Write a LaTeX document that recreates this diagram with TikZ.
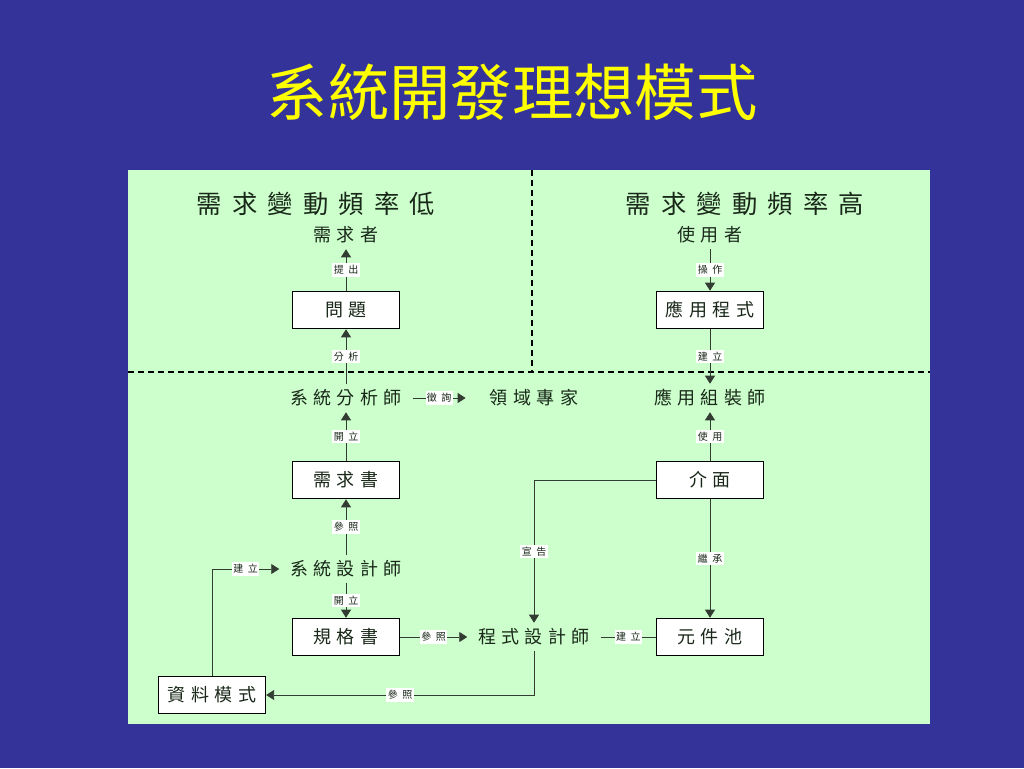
\documentclass[tikz,border=0pt]{standalone}
\usepackage{fontspec}
\usetikzlibrary{arrows.meta}
\newfontfamily\cjk{Noto Sans CJK TC}
\newfontfamily\cjkA[LetterSpace=30]{Noto Sans CJK TC}
\newfontfamily\cjkB[LetterSpace=45]{Noto Sans CJK TC}
\newfontfamily\cjkH[LetterSpace=40]{Noto Sans CJK TC}
\definecolor{bgblue}{RGB}{51,51,153}
\definecolor{panelgreen}{RGB}{204,255,204}
\definecolor{ink}{RGB}{25,40,25}
\definecolor{wire}{RGB}{50,60,50}
\definecolor{titleyellow}{RGB}{255,255,0}
\tikzset{
  titletext/.style={font=\cjk\fontsize{46}{50}\selectfont, text=titleyellow, inner sep=0},
  headtext/.style={font=\cjkH\fontsize{19}{22}\selectfont, text=ink, inner sep=0},
  plaintext/.style={font=\cjkA\fontsize{13.5}{15}\selectfont, text=ink, inner ysep=0, inner xsep=8pt, minimum height=21pt},
  boxnode/.style={draw=black, line width=1.2pt, fill=white, font=\cjkA\fontsize{13.5}{15}\selectfont, text=ink, minimum width=80pt, minimum height=27.75pt, inner sep=0},
  lbl/.style={fill=white, font=\cjkB\fontsize{7.5}{9}\selectfont, text=ink, inner xsep=1pt, inner ysep=1.5pt},
  wireline/.style={draw=wire, line width=0.6pt},
  arr/.style={wireline, -{Triangle[length=6pt,width=7.5pt]}},
  dashline/.style={draw=black, line width=0.8pt, dash pattern=on 4.5pt off 3pt}
}
\begin{document}
\begin{tikzpicture}[x=0.75pt,y=-0.75pt]
\useasboundingbox (0,0) rectangle (1024,768);
\fill[bgblue] (0,0) rectangle (1024,768);
\fill[panelgreen] (128,170) rectangle (930,724);
\draw[dashline] (532,170) -- (532,372);
\draw[dashline] (128,372) -- (930,372);

\node[titletext] (title) at (512,92) {系統開發理想模式};
\node[headtext] (hlow) at (316,204) {需求變動頻率低};
\node[headtext] (hhigh) at (745,204) {需求變動頻率高};

\node[plaintext] (xqz) at (346,235) {需求者};
\node[plaintext] (syz) at (710,235) {使用者};
\node[boxnode] (wt) at (346,310) {問題};
\node[boxnode] (yycs) at (710,310) {應用程式};
\node[plaintext] (xtfxs) at (346,398) {系統分析師};
\node[plaintext, inner xsep=18pt] (lyzj) at (534,398) {領域專家};
\node[plaintext] (yyzzs) at (710,398) {應用組裝師};
\node[boxnode] (xqs) at (346,480) {需求書};
\node[boxnode] (jm) at (710,480) {介面};
\node[plaintext] (xtsjs) at (346,569) {系統設計師};
\node[boxnode] (ggs) at (346,637) {規格書};
\node[plaintext] (cssjs) at (534,637) {程式設計師};
\node[boxnode] (yjc) at (710,637) {元件池};
\node[boxnode] (zlms) at (212,695) {資料模式};

\draw[arr] (wt) -- node[lbl]{提出} (xqz);
\draw[arr] (xtfxs) -- node[lbl]{分析} (wt);
\draw[arr] (syz) -- node[lbl]{操作} (yycs);
\draw[arr] (yycs) -- node[lbl]{建立} (yyzzs);
\draw[arr] (xtfxs) -- node[lbl]{徵詢} (lyzj);
\draw[arr] (xqs) -- node[lbl]{開立} (xtfxs);
\draw[arr] (jm) -- node[lbl]{使用} (yyzzs);
\draw[arr] (xtsjs) -- node[lbl]{參照} (xqs);
\draw[arr] (xtsjs) -- node[lbl]{開立} (ggs);
\draw[arr] (zlms.north) |- node[lbl, pos=0.75]{建立} (xtsjs.west);
\draw[arr] (ggs) -- node[lbl]{參照} (cssjs);
\draw[arr] (jm.west) -| node[lbl, pos=0.75]{宣告} (cssjs.north);
\draw[arr] (jm) -- node[lbl]{繼承} (yjc);
\draw[wireline] (cssjs) -- node[lbl]{建立} (yjc);
\draw[arr] (cssjs.south) |- node[lbl, pos=0.75]{參照} (zlms.east);
\end{tikzpicture}
\end{document}
